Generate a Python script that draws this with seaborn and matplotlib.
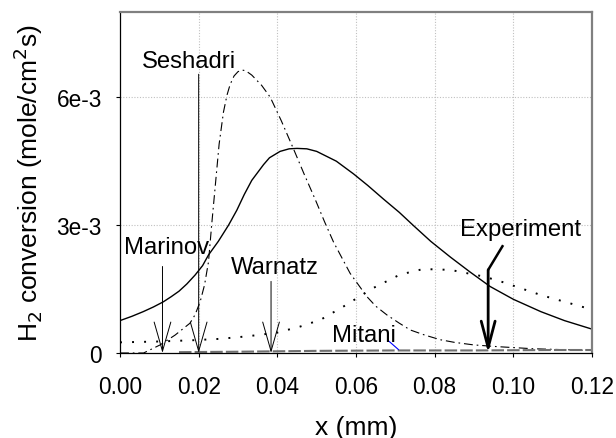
import numpy as np
import pandas as pd
import matplotlib
matplotlib.use("Agg")
import matplotlib.pyplot as plt
import seaborn as sns

# ---- data (x in mm, y in units of 1e-3 mole/cm^2 s) ----
x_marinov = [0.000, 0.003, 0.0059, 0.0085, 0.011, 0.013, 0.015, 0.017, 0.0191, 0.021,
             0.0225, 0.025, 0.0276, 0.0297, 0.0316, 0.0335, 0.0365, 0.038, 0.0407, 0.043,
             0.045, 0.0475, 0.050, 0.055, 0.0594, 0.063, 0.067, 0.071, 0.0746, 0.079,
             0.084, 0.089, 0.0941, 0.100, 0.107, 0.113, 0.120]
y_marinov = [0.76, 0.86, 0.97, 1.08, 1.20, 1.32, 1.45, 1.62, 1.83, 2.05,
             2.30, 2.62, 3.00, 3.35, 3.72, 4.05, 4.42, 4.58, 4.73, 4.79,
             4.80, 4.79, 4.73, 4.50, 4.20, 3.93, 3.61, 3.30, 2.99, 2.62,
             2.25, 1.90, 1.56, 1.26, 0.97, 0.76, 0.56]

x_seshadri = [0.000, 0.006, 0.0102, 0.0140, 0.0178, 0.0191, 0.0204, 0.0215, 0.0225, 0.0233,
              0.0243, 0.0252, 0.0263, 0.0272, 0.0280, 0.0290, 0.0300, 0.0310, 0.0320, 0.0335,
              0.0360, 0.0382, 0.0410, 0.0441, 0.0468, 0.0496, 0.0520, 0.0543, 0.0585, 0.0628,
              0.0650, 0.0679, 0.0710, 0.0738, 0.0775, 0.0815, 0.0850, 0.0899, 0.0958, 0.105,
              0.112, 0.120]
y_seshadri = [0.00, 0.00, 0.19, 0.42, 0.70, 0.90, 1.21, 1.60, 2.14, 3.00,
              4.00, 4.90, 5.65, 6.05, 6.30, 6.50, 6.60, 6.64, 6.62, 6.52,
              6.28, 6.00, 5.45, 4.79, 4.20, 3.61, 3.08, 2.60, 1.87, 1.32,
              1.10, 0.89, 0.70, 0.54, 0.42, 0.31, 0.25, 0.19, 0.15, 0.10,
              0.08, 0.06]

x_warnatz = [0.000, 0.010, 0.0186, 0.025, 0.030, 0.035, 0.040, 0.0458, 0.051, 0.0568,
             0.0645, 0.0712, 0.0771, 0.084, 0.0916, 0.0958, 0.107, 0.1188, 0.120]
y_warnatz = [0.25, 0.27, 0.30, 0.33, 0.37, 0.42, 0.48, 0.62, 0.78, 1.09,
             1.53, 1.84, 1.97, 1.95, 1.81, 1.71, 1.36, 1.05, 1.02]

x_mitani = [0.015, 0.030, 0.050, 0.070, 0.090, 0.110, 0.120]
y_mitani = [0.02, 0.03, 0.05, 0.06, 0.06, 0.07, 0.07]

x_ticks = [0.00, 0.02, 0.04, 0.06, 0.08, 0.10, 0.12]
x_tick_labels = ["0.00", "0.02", "0.04", "0.06", "0.08", "0.10", "0.12"]
y_ticks = [0.0, 3e-3, 6e-3]
y_tick_labels = ["0", "3e-3", "6e-3"]

# annotation arrows: arrow x (mm), arrow top y (1e-3)
arrow_x = {"Marinov": 0.0108, "Seshadri": 0.0200, "Warnatz": 0.0384, "Experiment": 0.0936}
arrow_top = {"Marinov": 2.03, "Seshadri": 6.54, "Warnatz": 1.68, "Experiment": 1.95}

sns.set_style("white")
plt.rcParams["font.family"] = ["Liberation Sans", "DejaVu Sans"]
plt.rcParams["text.color"] = "black"
plt.rcParams["axes.labelcolor"] = "black"
plt.rcParams["xtick.color"] = "black"
plt.rcParams["ytick.color"] = "black"

fig = plt.figure(figsize=(6.16, 4.39), dpi=100)
ax = fig.add_axes([120 / 616, 1 - 354 / 439, 472 / 616, 341 / 439])

def df(x, y):
    return pd.DataFrame({"x": x, "y": np.array(y) * 1e-3})

sns.lineplot(data=df(x_marinov, y_marinov), x="x", y="y", ax=ax, color="black", lw=1.0)
sns.lineplot(data=df(x_seshadri, y_seshadri), x="x", y="y", ax=ax, color="black", lw=0.8,
             linestyle=(0, (8, 3.5, 1.5, 3.5)))
sns.lineplot(data=df(x_warnatz, y_warnatz), x="x", y="y", ax=ax, color="black", lw=1.4,
             linestyle=(0, (1, 5.2)))
sns.lineplot(data=df(x_mitani, y_mitani), x="x", y="y", ax=ax, color="#707070", lw=1.5,
             linestyle=(0, (6, 1.5)))

ax.set_xlim(0, 0.12)
ax.set_ylim(0, 8e-3)
ax.set_xticks(x_ticks)
ax.set_xticklabels(x_tick_labels)
ax.set_yticks(y_ticks)
ax.set_yticklabels(y_tick_labels)
ax.tick_params(axis="both", labelsize=16.3, length=3, width=0.8, color="black",
               labelcolor="black", direction="out", left=True, bottom=True)
ax.tick_params(axis="y", pad=10)
ax.tick_params(axis="x", pad=13)

for v in x_ticks[1:-1]:
    ax.axvline(v, color="#c0c0c0", lw=0.8, linestyle=(0, (1, 1.5)), zorder=0)
for v in y_ticks[1:]:
    ax.axhline(v, color="#c0c0c0", lw=0.8, linestyle=(0, (1, 1.5)), zorder=0)

for s in ["top", "right"]:
    ax.spines[s].set_color("#808080")
    ax.spines[s].set_linewidth(1.6)
for s in ["left", "bottom"]:
    ax.spines[s].set_color("black")
    ax.spines[s].set_linewidth(0.9)

ax.set_xlabel("x (mm)", fontsize=19, labelpad=12, color="black")
ax.set_ylabel(r"H$_2$ conversion (mole/cm$^2$s)", fontsize=19, labelpad=8, color="black")

# thin arrows
for name in ["Marinov", "Seshadri", "Warnatz"]:
    ax.annotate("", xy=(arrow_x[name], 0), xytext=(arrow_x[name], arrow_top[name] * 1e-3),
                arrowprops=dict(arrowstyle="->,head_length=2.1,head_width=0.6",
                                color="black", lw=0.7, shrinkA=0, shrinkB=0,
                                mutation_scale=10))
# experiment arrow (thick, with bent leader)
ax.annotate("", xy=(arrow_x["Experiment"], 0),
            xytext=(arrow_x["Experiment"], arrow_top["Experiment"] * 1e-3),
            arrowprops=dict(arrowstyle="->,head_length=1.9,head_width=0.5",
                            color="black", lw=2.0, shrinkA=0, shrinkB=0,
                            mutation_scale=10))
ax.plot([arrow_x["Experiment"], 0.0974], [arrow_top["Experiment"] * 1e-3, 2.53e-3],
        color="black", lw=1.8, solid_capstyle="butt")
# blue leader for Mitani
ax.plot([0.0682, 0.0708], [0.29e-3, 0.08e-3], color="blue", lw=0.8)

lab_fs = 17.2
ax.text(0.0056, 6.85e-3, "Seshadri", fontsize=lab_fs, ha="left", va="center", color="black")
ax.text(0.0010, 2.48e-3, "Marinov", fontsize=lab_fs, ha="left", va="center", color="black")
ax.text(0.0282, 2.01e-3, "Warnatz", fontsize=lab_fs, ha="left", va="center", color="black")
ax.text(0.0539, 0.42e-3, "Mitani", fontsize=lab_fs, ha="left", va="center", color="black")
ax.text(0.0864, 2.92e-3, "Experiment", fontsize=lab_fs, ha="left", va="center", color="black")

fig.savefig("out.png", dpi=100)
